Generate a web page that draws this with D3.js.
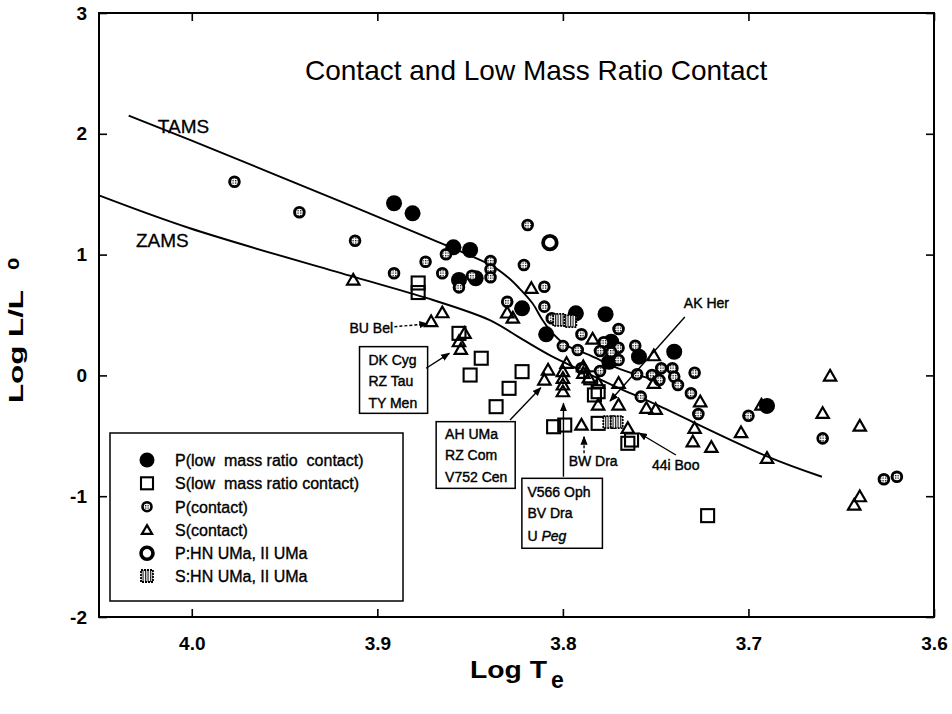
<!DOCTYPE html>
<html><head><meta charset="utf-8">
<script src="https://cdn.jsdelivr.net/npm/d3@7"></script>
<style>
body{margin:0;background:#fff;}
svg{font-family:"Liberation Sans",Arial,sans-serif;}
</style></head>
<body><svg id="c" width="952" height="714"></svg>
<script>
// ---- data: [log Te, log L/Lo] ----
const pLow = [[3.891,1.425],[3.881,1.342],[3.859,1.06],[3.850,1.038],[3.856,0.79],[3.847,0.804],[3.822,0.555],[3.809,0.34],[3.793,0.514],[3.777,0.506],[3.774,0.279],[3.775,0.113],[3.759,0.155],[3.740,0.196],[3.690,-0.253]];
const sLow = [[3.878,0.765],[3.878,0.686],[3.856,0.348],[3.844,0.142],[3.850,0.003],[3.822,0.031],[3.829,-0.107],[3.836,-0.259],[3.805,-0.425],[3.799,-0.411],[3.781,-0.397],[3.783,-0.162],[3.781,-0.135],[3.765,-0.562],[3.763,-0.535],[3.722,-1.161],[3.785,-0.02]];
const pContact = [[3.977,1.603],[3.942,1.35],[3.912,1.115],[3.891,0.845],[3.874,0.941],[3.865,0.845],[3.863,1.003],[3.856,0.729],[3.849,0.825],[3.839,0.947],[3.839,0.878],[3.839,0.812],[3.819,1.245],[3.821,0.914],[3.810,0.734],[3.830,0.61],[3.810,0.569],[3.806,0.473],[3.790,0.34],[3.770,0.384],[3.800,0.243],[3.792,0.21],[3.778,0.274],[3.770,0.229],[3.780,0.202],[3.774,0.191],[3.770,0.127],[3.761,0.246],[3.790,0.059],[3.780,0.036],[3.760,0.009],[3.752,0.003],[3.747,0.059],[3.748,-0.038],[3.758,-0.176],[3.741,0.059],[3.740,-0.011],[3.738,-0.079],[3.731,-0.148],[3.729,0.022],[3.727,-0.32],[3.700,-0.334],[3.660,-0.521],[3.627,-0.86],[3.620,-0.839]];
const sContact = [[3.913,0.79],[3.871,0.445],[3.865,0.519],[3.853,0.348],[3.856,0.279],[3.855,0.216],[3.817,0.721],[3.830,0.517],[3.827,0.475],[3.784,0.301],[3.798,0.1],[3.808,0.045],[3.810,-0.038],[3.800,0.031],[3.800,-0.024],[3.800,-0.079],[3.800,-0.135],[3.789,0.072],[3.789,0.017],[3.786,-0.02],[3.781,-0.065],[3.770,-0.065],[3.781,-0.245],[3.770,-0.245],[3.790,-0.411],[3.765,-0.438],[3.751,0.163],[3.755,-0.272],[3.750,-0.281],[3.726,-0.218],[3.729,-0.438],[3.730,-0.549],[3.720,-0.595],[3.704,-0.474],[3.690,-0.686],[3.693,-0.245],[3.656,-0.005],[3.660,-0.314],[3.640,-0.419],[3.640,-1.004],[3.643,-1.073],[3.751,-0.065]];
const pHN = [[3.807,1.099]];
const sHN = [[3.802,0.459],[3.796,0.45],[3.775,-0.386],[3.771,-0.386]];
const tams = [[4.034,2.15],[4.001,1.949],[3.913,1.397],[3.870,1.121],[3.838,0.905],[3.829,0.804],[3.8235,0.721],[3.8164,0.597],[3.811,0.459],[3.8056,0.35],[3.7984,0.252],[3.7859,0.169],[3.768,0.045],[3.750,-0.04]];
const zams = [[4.05,1.49],[4.001,1.218],[3.913,0.817],[3.870,0.624],[3.8397,0.459],[3.822,0.30],[3.8056,0.155],[3.7913,0.05],[3.772,-0.09],[3.750,-0.24],[3.690,-0.67],[3.6604,-0.839]];
const xTicks = [4.0,3.9,3.8,3.7,3.6];
const yTicks = [-2,-1,0,1,2,3];
const legendLabels = ["P(low  mass ratio  contact)","S(low  mass ratio contact)","P(contact)","S(contact)","P:HN UMa, II UMa","S:HN UMa, II UMa"];
const titleText = "Contact and Low Mass Ratio Contact";
const boxes = [
  {lines:["DK Cyg","RZ Tau","TY Men"], x0:3.9096, x1:3.8729, y0:0.238, y1:-0.314, tx:3.9048, base:[0.086,-0.088,-0.27], arrow:[[3.8737,0.059],[3.8612,0.183]]},
  {lines:["AH UMa","RZ Com","V752 Cen"], x0:3.8683, x1:3.8257, y0:-0.383, y1:-0.935, tx:3.8635, base:[-0.526,-0.70,-0.882], arrow:[[3.8285,-0.369],[3.8119,-0.102]]},
  {lines:["V566 Oph","BV Dra","U Peg"], x0:3.8221, x1:3.7787, y0:-0.852, y1:-1.431, tx:3.8191, base:[-1.007,-1.18,-1.371], arrow:[[3.7997,-0.839],[3.7997,-0.231]]}
];
const labels = [
  {text:"BU Bel", pos:[3.915,0.351], anchor:"start", arrow:[[3.8908,0.403],[3.873,0.426]], dashed:true},
  {text:"BW Dra", pos:[3.7837,-0.75], anchor:"middle", arrow:[[3.7886,-0.645],[3.7886,-0.507]], dashed:true},
  {text:"44i Boo", pos:[3.752,-0.783], anchor:"start", arrow:[[3.7391,-0.659],[3.759,-0.477]], dashed:false},
  {text:"AK Her", pos:[3.7348,0.558], anchor:"start", arrow:[[3.7343,0.483],[3.7746,-0.212]], dashed:false}
];
const lineLabels = [{text:"TAMS", pos:[4.0183,2.007]},{text:"ZAMS", pos:[4.0301,1.063]}];

// ---- drawing ----
const svg = d3.select("#c");
const L = 99, R = 934, T = 13, B = 617;
const x = d3.scaleLinear().domain([4.05,3.6]).range([L,R]);
const y = d3.scaleLinear().domain([-2,3]).range([B,T]);

const defs = svg.append("defs");
const dp = defs.append("pattern").attr("id","dots").attr("patternUnits","userSpaceOnUse").attr("width",2.5).attr("height",2.5);
dp.append("rect").attr("width",2.5).attr("height",2.5).attr("fill","#fff");
dp.append("rect").attr("width",1.3).attr("height",1.3).attr("fill","#111");
const hp = defs.append("pattern").attr("id","hatch").attr("patternUnits","userSpaceOnUse").attr("width",2.5).attr("height",2.5);
hp.append("rect").attr("width",2.5).attr("height",2.5).attr("fill","#fff");
hp.append("rect").attr("width",1.2).attr("height",2.5).attr("fill","#222");
defs.append("marker").attr("id","arr").attr("viewBox","0 0 10 10").attr("refX",9).attr("refY",5)
  .attr("markerWidth",9).attr("markerHeight",9).attr("markerUnits","userSpaceOnUse").attr("orient","auto")
  .append("path").attr("d","M0,1 L10,5 L0,9 Z").attr("fill","#000");

svg.append("rect").attr("width",952).attr("height",714).attr("fill","#fff");

// curves
const lineR = d3.line().x(d=>x(d[0])).y(d=>y(d[1])).curve(d3.curveCatmullRom.alpha(0.5));
svg.append("path").datum(tams).attr("d",lineR).attr("fill","none").attr("stroke","#000").attr("stroke-width",1.9);
svg.append("path").datum(zams).attr("d",lineR).attr("fill","none").attr("stroke","#000").attr("stroke-width",1.9);
lineLabels.forEach(l=>svg.append("text").attr("x",x(l.pos[0])).attr("y",y(l.pos[1])).attr("font-size",19)
  .attr("stroke","#000").attr("stroke-width",0.3).text(l.text));

// symbols
const tri = d3.symbol().type(d3.symbolTriangle).size(66);
function drawPLow(g,pts,r){g.selectAll(null).data(pts).join("circle").attr("cx",d=>x(d[0])).attr("cy",d=>y(d[1])).attr("r",r).attr("fill","#000");}
function drawSq(g,pts,s,hatched){g.selectAll(null).data(pts).join("rect").attr("x",d=>x(d[0])-s/2).attr("y",d=>y(d[1])-s/2).attr("width",s).attr("height",s)
  .attr("fill",hatched?"url(#hatch)":"none").attr("stroke","#000").attr("stroke-width",hatched?1.8:2.1).attr("stroke-dasharray",hatched?"2,1":null);}
function drawPC(g,pts,r){g.selectAll(null).data(pts).join("circle").attr("cx",d=>x(d[0])).attr("cy",d=>y(d[1])).attr("r",r).attr("fill","url(#dots)").attr("stroke","#000").attr("stroke-width",2.8);}
function drawTri(g,pts){g.selectAll(null).data(pts).join("path").attr("d",tri).attr("transform",d=>`translate(${x(d[0])},${y(d[1])+1})`).attr("fill","none").attr("stroke","#000").attr("stroke-width",2.2);}
function drawRing(g,pts,r){g.selectAll(null).data(pts).join("circle").attr("cx",d=>x(d[0])).attr("cy",d=>y(d[1])).attr("r",r).attr("fill","#fff").attr("stroke","#000").attr("stroke-width",3.8);}

const gp = svg.append("g");
drawPLow(gp.append("g"),pLow,8);
drawSq(gp.append("g"),sLow,13,false);
drawPC(gp.append("g"),pContact,4.9);
drawTri(gp.append("g"),sContact);
drawRing(gp.append("g"),pHN,6.8);
drawSq(gp.append("g"),sHN,12,true);

// annotations
const ann = svg.append("g").attr("font-size",14);
boxes.forEach(b=>{
  ann.append("rect").attr("x",x(b.x0)).attr("y",y(b.y0)).attr("width",x(b.x1)-x(b.x0)).attr("height",y(b.y1)-y(b.y0))
    .attr("fill","#fff").attr("stroke","#000").attr("stroke-width",1.5);
  b.lines.forEach((t,i)=>{
    const te = ann.append("text").attr("x",x(b.tx)).attr("y",y(b.base[i])).attr("stroke","#000").attr("stroke-width",0.4);
    if(t==="U Peg"){te.append("tspan").text("U ");te.append("tspan").attr("font-style","italic").text("Peg");}
    else te.text(t);
  });
  ann.append("line").attr("x1",x(b.arrow[0][0])).attr("y1",y(b.arrow[0][1])).attr("x2",x(b.arrow[1][0])).attr("y2",y(b.arrow[1][1]))
    .attr("stroke","#000").attr("stroke-width",1.4).attr("marker-end","url(#arr)");
});
labels.forEach(l=>{
  ann.append("text").attr("x",x(l.pos[0])).attr("y",y(l.pos[1])).attr("text-anchor",l.anchor).attr("stroke","#000").attr("stroke-width",0.4).text(l.text);
  ann.append("line").attr("x1",x(l.arrow[0][0])).attr("y1",y(l.arrow[0][1])).attr("x2",x(l.arrow[1][0])).attr("y2",y(l.arrow[1][1]))
    .attr("stroke","#000").attr("stroke-width",1.4).attr("stroke-dasharray",l.dashed?"3,2":null).attr("marker-end","url(#arr)");
});

// title
svg.append("text").attr("x",305).attr("y",80).attr("font-size",28).text(titleText);

// legend
const lg = svg.append("g");
lg.append("rect").attr("x",110).attr("y",433).attr("width",293).attr("height",168).attr("fill","#fff").attr("stroke","#000").attr("stroke-width",1.5);
const rowsY = [460,483.3,506.7,530,553.3,576];
const sx = 147;
lg.append("circle").attr("cx",sx).attr("cy",rowsY[0]).attr("r",7.5).attr("fill","#000");
lg.append("rect").attr("x",sx-6).attr("y",rowsY[1]-6).attr("width",12).attr("height",12).attr("fill","none").attr("stroke","#000").attr("stroke-width",2.1);
lg.append("circle").attr("cx",sx).attr("cy",rowsY[2]).attr("r",4.5).attr("fill","url(#dots)").attr("stroke","#000").attr("stroke-width",2.6);
lg.append("path").attr("d",d3.symbol().type(d3.symbolTriangle).size(45)).attr("transform",`translate(${sx},${rowsY[3]+1})`).attr("fill","none").attr("stroke","#000").attr("stroke-width",2.2);
lg.append("circle").attr("cx",sx).attr("cy",rowsY[4]).attr("r",6).attr("fill","#fff").attr("stroke","#000").attr("stroke-width",3.6);
lg.append("rect").attr("x",sx-6).attr("y",rowsY[5]-6).attr("width",12).attr("height",12).attr("fill","url(#hatch)").attr("stroke","#000").attr("stroke-width",1.8).attr("stroke-dasharray","2,1");
legendLabels.forEach((t,i)=>lg.append("text").attr("x",175).attr("y",rowsY[i]+6).attr("font-size",16)
  .attr("stroke","#000").attr("stroke-width",0.35).style("white-space","pre").text(t));

// axes (inward ticks on all sides)
const ax = svg.append("g");
const gx = ax.append("g").attr("transform",`translate(0,${B})`)
  .call(d3.axisBottom(x).tickValues(xTicks).tickSizeInner(-8).tickSizeOuter(0).tickPadding(20).tickFormat(d3.format(".1f")));
const gy = ax.append("g").attr("transform",`translate(${L},0)`)
  .call(d3.axisLeft(y).tickValues(yTicks).tickSizeInner(-8).tickSizeOuter(0).tickPadding(12).tickFormat(d=>String(d)));
const gt = ax.append("g").attr("transform",`translate(0,${T})`)
  .call(d3.axisTop(x).tickValues(xTicks).tickSizeInner(-8).tickSizeOuter(0).tickFormat(""));
const gr = ax.append("g").attr("transform",`translate(${R},0)`)
  .call(d3.axisRight(y).tickValues(yTicks).tickSizeInner(-8).tickSizeOuter(0).tickFormat(""));
[gx,gy,gt,gr].forEach(g=>{g.select(".domain").remove();g.selectAll(".tick line").attr("stroke","#000").attr("stroke-width",1.6);});
ax.selectAll(".tick text").attr("font-size",19).attr("font-weight","bold").attr("fill","#000").attr("font-family","'Liberation Sans',Arial,sans-serif");
ax.append("rect").attr("x",L).attr("y",T).attr("width",R-L).attr("height",B-T).attr("fill","none").attr("stroke","#000").attr("stroke-width",2);

// axis titles
svg.append("text").attr("x",470).attr("y",678).attr("font-size",23).attr("font-weight","bold").attr("textLength",77).attr("lengthAdjust","spacingAndGlyphs").text("Log T");
svg.append("text").attr("x",551).attr("y",688).attr("font-size",23).attr("font-weight","bold").text("e");
const yt = svg.append("g").attr("transform","translate(23,403) rotate(-90)");
yt.append("text").attr("x",0).attr("y",0).attr("font-size",20).attr("font-weight","bold").attr("textLength",113).attr("lengthAdjust","spacingAndGlyphs").text("Log L/L");
yt.append("text").attr("x",133).attr("y",-4).attr("font-size",20).attr("font-weight","bold").text("o");
</script></body></html>
